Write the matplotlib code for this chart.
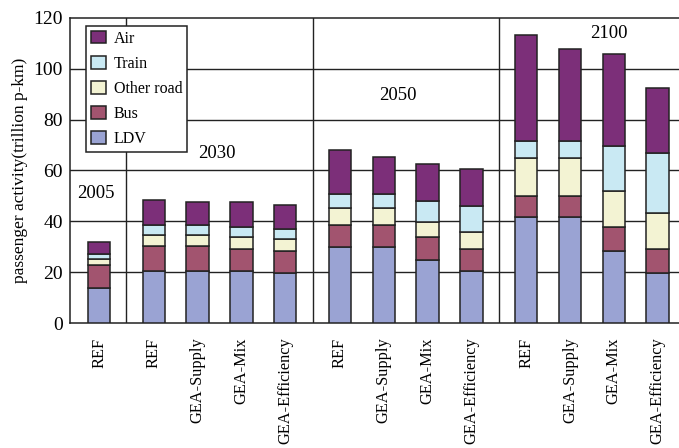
import numpy as np
import matplotlib
matplotlib.use('Agg')
import matplotlib.pyplot as plt

plt.rcParams['font.family'] = ['Liberation Serif', 'DejaVu Serif']

# one entry per bar, left to right
scenarios = ['REF',
             'REF', 'GEA-Supply', 'GEA-Mix', 'GEA-Efficiency',
             'REF', 'GEA-Supply', 'GEA-Mix', 'GEA-Efficiency',
             'REF', 'GEA-Supply', 'GEA-Mix', 'GEA-Efficiency']
group_sizes = [1, 4, 4, 4]
years = ['2005', '2030', '2050', '2100']

# trillion p-km, per mode (bottom to top of the stack)
ldv = [13.9, 20.6, 20.6, 20.6, 19.7, 29.9, 29.9, 24.6, 20.6, 41.5, 41.5, 28.2, 19.7]
bus = [9.1, 9.5, 9.5, 8.5, 8.6, 8.6, 8.6, 9.4, 8.5, 8.4, 8.4, 9.5, 9.6]
other_road = [2.0, 4.7, 4.7, 4.9, 4.8, 6.7, 6.7, 5.8, 6.7, 15.1, 15.1, 14.2, 14.0]
train = [2.3, 3.7, 3.7, 3.6, 3.7, 5.6, 5.6, 8.2, 10.4, 6.7, 6.7, 17.9, 23.5]
air = [4.7, 9.7, 8.9, 9.8, 9.5, 17.2, 14.3, 14.4, 14.3, 41.6, 35.9, 36.0, 25.6]

modes = ['LDV', 'Bus', 'Other road', 'Train', 'Air']
colors = ['#9aa3d3', '#a2546f', '#f3f3d3', '#c9e9f3', '#7c2f79']

# x positions: bars one unit apart, extra gap between year groups
gap = 0.25
x = []
pos = 0.0
for g, n in enumerate(group_sizes):
    for i in range(n):
        x.append(pos)
        pos += 1
    pos += gap
x = np.array(x)

fig = plt.figure(figsize=(6.79, 4.48), dpi=100)
ax = fig.add_axes([0.103, 0.279, 0.897, 0.681])

bottom = np.zeros(len(x))
handles = []
for vals, col, name in zip([ldv, bus, other_road, train, air], colors, modes):
    h = ax.bar(x, vals, width=0.51, bottom=bottom, color=col,
               edgecolor='#222222', linewidth=1.1, label=name, zorder=3)
    handles.append(h)
    bottom += np.array(vals)

# horizontal grid and group separators
for yv in [20, 40, 60, 80, 100]:
    ax.axhline(yv, color='#222222', linewidth=1.0, zorder=1)
idx = np.cumsum(group_sizes)[:-1]
for k in idx:
    ax.axvline((x[k - 1] + x[k]) / 2, color='#222222', linewidth=1.0, zorder=1)

ax.set_ylim(0, 120)
ax.set_xlim(x[0] - 0.666, x[-1] + 0.49)
ax.set_yticks([0, 20, 40, 60, 80, 100, 120])
ax.tick_params(axis='y', length=0, labelsize=14, pad=5)
ax.tick_params(axis='x', length=0, labelsize=11.8, pad=10.5)
ax.set_xticks(x)
ax.set_xticklabels(scenarios, rotation=90, va='top')
for s in ax.spines.values():
    s.set_color('#222222')
    s.set_linewidth(1.1)
ax.spines['right'].set_visible(False)

ax.set_ylabel('passenger activity(trillion p-km)', fontsize=12.5, labelpad=4)

# year labels
ax.text(-0.075, 51, years[0], ha='center', va='center', fontsize=13.5)
ax.text(2.69, 66.7, years[1], ha='center', va='center', fontsize=13.5)
ax.text(6.82, 89.4, years[2], ha='center', va='center', fontsize=13.5)
ax.text(11.65, 114, years[3], ha='center', va='center', fontsize=13.5)

leg = ax.legend(handles[::-1], modes[::-1], loc='upper left',
                bbox_to_anchor=(0.027, 0.974), borderaxespad=0,
                fontsize=11.5, frameon=True, fancybox=False, framealpha=1,
                edgecolor='#222222', handlelength=0.95, handleheight=0.85,
                labelspacing=0.57, borderpad=0.3, handletextpad=0.45)
leg.get_frame().set_linewidth(1.1)
leg.set_zorder(5)

fig.savefig('out.png', dpi=100)
